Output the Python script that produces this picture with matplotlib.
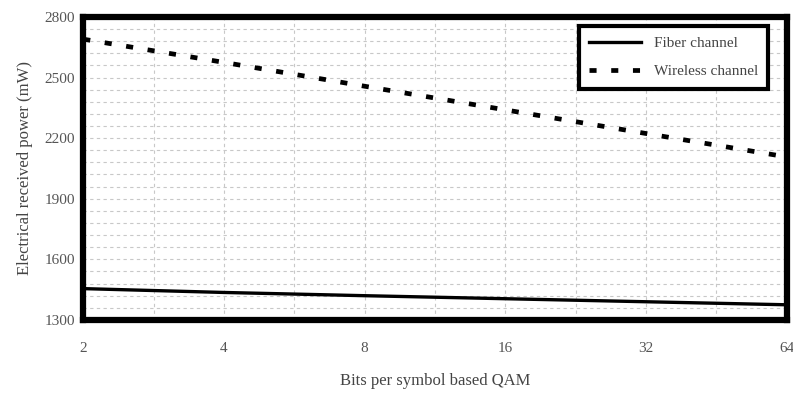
import numpy as np
import matplotlib.pyplot as plt
from matplotlib.ticker import FixedLocator, NullFormatter

plt.rcParams['font.family'] = ['Liberation Serif', 'DejaVu Serif']

# data
bits = [2, 4, 8, 16, 32, 64]
fiber = [1455, 1436, 1420, 1405, 1390, 1375]
wireless = [2690, 2575, 2457, 2340, 2223, 2107]

y_ticks = [1300, 1600, 1900, 2200, 2500, 2800]

fig = plt.figure(figsize=(7.93, 3.94), dpi=100)
ax = fig.add_axes([0.105, 0.188, 0.887, 0.769])

ax.plot(bits, fiber, color='black', lw=2.4, label='Fiber channel')
ax.plot(bits, wireless, color='black', lw=3.4, ls=(0, (1.5, 3.1)), label='Wireless channel')

ax.set_xscale('log', base=2)
ax.set_xlim(2, 64)
ax.set_ylim(1300, 2800)
ax.set_xticks(bits)
ax.set_xticklabels([str(b) for b in bits])
ax.xaxis.set_minor_locator(FixedLocator([2 ** (k + 0.5) for k in range(1, 6)]))
ax.xaxis.set_minor_formatter(NullFormatter())
ax.set_yticks(y_ticks)
ax.yaxis.set_minor_locator(FixedLocator(np.arange(1300, 2801, 60)))

ax.grid(which='both', color='#c8c8c8', ls=(0, (3, 3)), lw=0.8)
ax.tick_params(which='both', length=0, colors='#555555', labelsize=11, pad=16)
ax.tick_params(axis='y', pad=6)

for s in ax.spines.values():
    s.set_linewidth(4.5)
    s.set_color('black')

ax.set_xlabel('Bits per symbol based QAM', fontsize=12, color='#444444', labelpad=13)
ax.set_ylabel('Electrical received power (mW)', fontsize=12, color='#444444', labelpad=8)

leg = ax.legend(loc='upper right', bbox_to_anchor=(0.985, 0.995), fontsize=11,
                fancybox=False, framealpha=1, edgecolor='black', handlelength=3.4,
                borderpad=0.7, labelspacing=0.9)
leg.get_frame().set_linewidth(3)
for t in leg.get_texts():
    t.set_color('#444444')

fig.savefig('out.png', dpi=100)
